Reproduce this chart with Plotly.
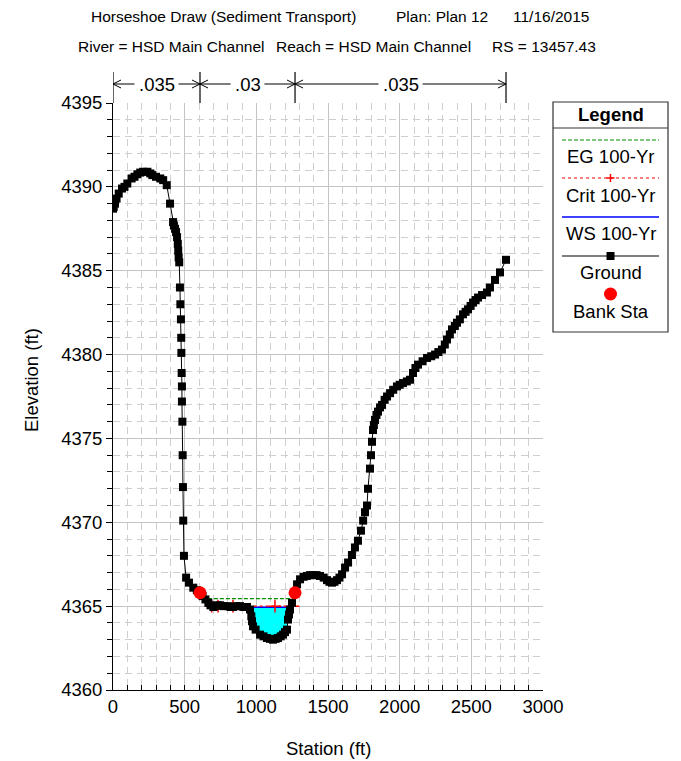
import numpy as np
import plotly.graph_objects as go

# ---- cross-section geometry (station ft, elevation ft) ----
station = [0, 5, 14, 25, 40, 63, 80, 100, 130, 150, 170, 190, 210, 240, 260, 275,
           300, 330, 350, 375, 398, 419, 425, 433, 440, 447, 452, 455, 458, 462,
           467, 470, 474, 476, 477, 479, 481, 481, 484, 486, 488, 490, 495, 510,
           530, 560, 585, 607, 625, 645, 665, 680, 700, 712, 730, 747, 770, 802,
           820, 837, 860, 886, 910, 935, 956, 965, 970, 977, 995, 1026, 1050, 1074,
           1095, 1116, 1135, 1151, 1170, 1186, 1200, 1214, 1221, 1228, 1235, 1249,
           1270, 1284, 1305, 1330, 1353, 1375, 1395, 1420, 1444, 1470, 1493, 1510,
           1528, 1545, 1563, 1580, 1598, 1619, 1640, 1667, 1688, 1709, 1730, 1745,
           1758, 1772, 1779, 1793, 1800, 1807, 1814, 1820, 1828, 1838, 1849, 1863,
           1877, 1895, 1912, 1933, 1955, 1981, 2000, 2023, 2050, 2072, 2093, 2110,
           2128, 2160, 2191, 2220, 2247, 2270, 2295, 2315, 2330, 2350, 2365, 2385,
           2400, 2420, 2442, 2460, 2477, 2495, 2512, 2530, 2547, 2575, 2609, 2630,
           2665, 2700, 2742]
elevation = [4388.7, 4388.8, 4389.0, 4389.3, 4389.6, 4389.9, 4390.0, 4390.2, 4390.5,
             4390.6, 4390.75, 4390.85, 4390.9, 4390.9, 4390.8, 4390.7, 4390.6, 4390.5,
             4390.4, 4390.1, 4389.0, 4387.9, 4387.7, 4387.5, 4387.3, 4387.0, 4386.6,
             4386.2, 4385.8, 4385.5, 4384.0, 4383.0, 4382.1, 4381.0, 4380.1, 4378.9,
             4378.1, 4377.2, 4376.0, 4374.0, 4372.1, 4370.1, 4368.0, 4366.7, 4366.4,
             4366.1, 4365.95, 4365.8, 4365.6, 4365.4, 4365.2, 4365.05, 4364.95, 4365.0,
             4365.05, 4365.05, 4365.0, 4365.0, 4364.95, 4364.95, 4365.0, 4365.0,
             4364.95, 4364.95, 4364.8, 4364.4, 4364.1, 4363.8, 4363.6, 4363.3, 4363.2,
             4363.1, 4363.05, 4363.0, 4363.05, 4363.1, 4363.2, 4363.3, 4363.45, 4363.6,
             4364.2, 4364.5, 4364.8, 4365.2, 4365.8, 4366.3, 4366.6, 4366.75, 4366.8,
             4366.85, 4366.85, 4366.85, 4366.8, 4366.7, 4366.55, 4366.45, 4366.4,
             4366.45, 4366.55, 4366.7, 4366.9, 4367.3, 4367.6, 4368.05, 4368.5, 4368.9,
             4369.5, 4370.1, 4370.6, 4371.0, 4372.0, 4373.2, 4374.0, 4374.8, 4375.5,
             4375.8, 4376.1, 4376.4, 4376.6, 4376.85, 4377.0, 4377.3, 4377.5, 4377.7,
             4377.9, 4378.1, 4378.2, 4378.3, 4378.4, 4378.5, 4378.9, 4379.2, 4379.4,
             4379.6, 4379.8, 4379.9, 4380.0, 4380.15, 4380.3, 4380.6, 4380.9, 4381.2,
             4381.5, 4381.7, 4381.9, 4382.1, 4382.4, 4382.55, 4382.7, 4382.9, 4383.1,
             4383.25, 4383.4, 4383.55, 4383.7, 4384.0, 4384.45, 4384.9, 4385.65]

bank_station = [607, 1270]
bank_elevation = [4365.8, 4365.8]

# ---- 100-yr profile results ----
ws_elev = 4364.93
ws_limits = [677, 1250]
eg_elev = 4365.45
eg_limits = [620, 1262]
crit_elev = 4365.0
crit_station = [688, 733, 837, 1130, 1256]

# ---- Manning's n regions ----
n_bounds = [0, 607, 1270, 2742]
n_values = [".035", ".03", ".035"]

# ---- page layout (pixels) ----
W, H = 681, 761
ML, MR, MT, MB = 113, 138, 103, 71
PW, PH = W - ML - MR, H - MT - MB
FONT = "Liberation Sans, Arial, sans-serif"
X_RANGE = [0, 3000]
FT_PER_PX = (X_RANGE[1] - X_RANGE[0]) / PW
EG_COLOR = "#009000"


def pxx(xp):
    return (xp - ML) / PW


def pxy(yp):
    return (H - MB - yp) / PH


st = np.array(station, dtype=float)
el = np.array(elevation, dtype=float)

# water area below the water surface
near = (st > ws_limits[0] - 60) & (st < ws_limits[1] + 60)
inside = (st > ws_limits[0]) & (st < ws_limits[1])
fx = np.concatenate([[ws_limits[0]], st[inside], [ws_limits[1]]])
fg = np.interp(fx, st[near], el[near])
fy = np.minimum(fg, ws_elev)

fig = go.Figure()
fig.add_trace(go.Scatter(x=fx, y=[ws_elev] * len(fx), mode="lines",
                         line=dict(width=0), showlegend=False, hoverinfo="skip"))
fig.add_trace(go.Scatter(x=fx, y=fy, mode="lines", fill="tonexty",
                         fillcolor="#00ffff", line=dict(width=0),
                         showlegend=False, hoverinfo="skip"))
fig.add_trace(go.Scatter(x=ws_limits, y=[ws_elev] * 2, mode="lines",
                         line=dict(color="#0000ff", width=1.5), name="WS 100-Yr"))
fig.add_trace(go.Scatter(x=crit_station, y=[crit_elev] * len(crit_station),
                         mode="lines+markers",
                         line=dict(color="#ff0000", width=1.2, dash="dot"),
                         marker=dict(symbol="cross-thin", size=9,
                                     line=dict(color="#ff0000", width=1.5)),
                         name="Crit 100-Yr"))
fig.add_trace(go.Scatter(x=eg_limits, y=[eg_elev] * 2, mode="lines",
                         line=dict(color=EG_COLOR, width=1.2, dash="4px,2px"),
                         name="EG 100-Yr"))
fig.add_trace(go.Scatter(x=st, y=el, mode="lines+markers",
                         line=dict(color="black", width=1),
                         marker=dict(symbol="square", size=8, color="black"),
                         name="Ground"))
fig.add_trace(go.Scatter(x=bank_station, y=bank_elevation, mode="markers",
                         marker=dict(symbol="circle", size=13, color="#ff0000"),
                         name="Bank Sta"))

shapes = []
annotations = []

# Manning's n region bar above the plot
bar_top, bar_y = 72, 84
for b in n_bounds:
    shapes.append(dict(type="line", xref="x", yref="paper", x0=b, x1=b,
                       y0=pxy(MT), y1=pxy(bar_top), line=dict(color="black", width=1.2)))
n_font = 18.5
for (a, b), label in zip(zip(n_bounds[:-1], n_bounds[1:]), n_values):
    c = (a + b) / 2
    tw = n_font * (0.278 + 0.556 * (len(label) - 1))
    gap = 4
    left_end = c - (tw / 2 + gap) * FT_PER_PX
    right_start = c + (tw / 2 + gap) * FT_PER_PX
    yy = pxy(bar_y)
    shapes.append(dict(type="line", xref="x", yref="paper", x0=a, x1=left_end,
                       y0=yy, y1=yy, line=dict(color="black", width=1)))
    shapes.append(dict(type="line", xref="x", yref="paper", x0=right_start, x1=b,
                       y0=yy, y1=yy, line=dict(color="black", width=1)))
    hx = 8 * FT_PER_PX
    hy = 4 / PH
    shapes.append(dict(type="path", xref="x", yref="paper",
                       path=f"M {a + hx},{yy + hy} L {a},{yy} L {a + hx},{yy - hy}",
                       line=dict(color="black", width=1)))
    shapes.append(dict(type="path", xref="x", yref="paper",
                       path=f"M {b - hx},{yy + hy} L {b},{yy} L {b - hx},{yy - hy}",
                       line=dict(color="black", width=1)))
    annotations.append(dict(x=c, y=yy, xref="x", yref="paper", text=label,
                            showarrow=False, xanchor="center", yanchor="middle",
                            font=dict(family=FONT, size=n_font, color="black")))

# header lines
title_font = dict(family=FONT, size=15.5, color="black")
header = [("Horseshoe Draw (Sediment Transport)", 89, 16),
          ("Plan: Plan 12", 394, 16),
          ("11/16/2015", 511, 16),
          ("River = HSD Main Channel", 76, 47),
          ("Reach = HSD Main Channel", 274, 47),
          ("RS = 13457.43", 490, 47)]
for text, x0, y0 in header:
    annotations.append(dict(x=pxx(x0), y=pxy(y0), xref="paper", yref="paper",
                            text=text, showarrow=False, xanchor="left",
                            yanchor="middle", font=title_font))

# axis titles
axis_font = dict(family=FONT, size=18.5, color="black")
annotations.append(dict(x=pxx(328), y=pxy(748), xref="paper", yref="paper",
                        text="Station (ft)", showarrow=False, xanchor="center",
                        yanchor="middle", font=axis_font))
annotations.append(dict(x=pxx(31), y=pxy(380), xref="paper", yref="paper",
                        text="Elevation (ft)", showarrow=False, textangle=-90,
                        xanchor="center", yanchor="middle", font=axis_font))

# legend panel
box = dict(x0=553, x1=668, y0=102, y1=332)
shapes.append(dict(type="rect", xref="paper", yref="paper",
                   x0=pxx(box["x0"]), x1=pxx(box["x1"]),
                   y0=pxy(box["y1"]), y1=pxy(box["y0"]),
                   line=dict(color="#333333", width=1.2), fillcolor="white"))
shapes.append(dict(type="line", xref="paper", yref="paper",
                   x0=pxx(box["x0"]), x1=pxx(box["x1"]), y0=pxy(128), y1=pxy(128),
                   line=dict(color="#333333", width=1.2)))
annotations.append(dict(x=pxx(610.5), y=pxy(114), xref="paper", yref="paper",
                        text="<b>Legend</b>", showarrow=False, xanchor="center",
                        yanchor="middle", font=axis_font))
lx0, lx1, lxc = 562, 659, 610.5
legend_rows = [("EG 100-Yr", 140, 157), ("Crit 100-Yr", 178, 195),
               ("WS 100-Yr", 217, 234), ("Ground", 256, 272), ("Bank Sta", 294, 311)]
for text, sy, ty in legend_rows:
    annotations.append(dict(x=pxx(lxc), y=pxy(ty), xref="paper", yref="paper",
                            text=text, showarrow=False, xanchor="center",
                            yanchor="middle", font=axis_font))


def seg(y, color, width, dash="solid"):
    return dict(type="line", xref="paper", yref="paper", x0=pxx(lx0), x1=pxx(lx1),
                y0=pxy(y), y1=pxy(y), line=dict(color=color, width=width, dash=dash))


shapes.append(seg(140, EG_COLOR, 1.2, "4px,2px"))
shapes.append(seg(178, "#ff0000", 1.2, "dot"))
shapes.append(dict(type="line", xref="paper", yref="paper", x0=pxx(lxc - 4), x1=pxx(lxc + 4),
                   y0=pxy(178), y1=pxy(178), line=dict(color="#ff0000", width=1.5)))
shapes.append(dict(type="line", xref="paper", yref="paper", x0=pxx(lxc), x1=pxx(lxc),
                   y0=pxy(174), y1=pxy(182), line=dict(color="#ff0000", width=1.5)))
shapes.append(seg(217, "#0000ff", 1.5))
shapes.append(seg(256, "black", 1.2))
shapes.append(dict(type="rect", xref="paper", yref="paper", x0=pxx(lxc - 4), x1=pxx(lxc + 4),
                   y0=pxy(260), y1=pxy(252), line=dict(width=0), fillcolor="black"))
shapes.append(dict(type="circle", xref="paper", yref="paper", x0=pxx(lxc - 6.5), x1=pxx(lxc + 6.5),
                   y0=pxy(300.5), y1=pxy(287.5), line=dict(width=0), fillcolor="#ff0000"))

grid_major = "#c4c4c4"
grid_minor = "#cfcfcf"
fig.update_layout(
    width=W, height=H,
    margin=dict(l=ML, r=MR, t=MT, b=MB, pad=0),
    paper_bgcolor="white", plot_bgcolor="white",
    showlegend=False,
    shapes=shapes, annotations=annotations,
    font=dict(family=FONT, size=18.5, color="black"),
    xaxis=dict(range=X_RANGE, dtick=500, tick0=0, showline=True, linecolor="black",
               linewidth=1, ticks="inside", ticklen=5, tickcolor="black",
               showgrid=True, gridcolor=grid_major, gridwidth=1, zeroline=False,
               tickfont=dict(family=FONT, size=18.5, color="black"),
               minor=dict(dtick=100, ticks="inside", ticklen=5, tickcolor="black",
                          showgrid=True, gridcolor=grid_minor, griddash="7px,5px",
                          gridwidth=1)),
    yaxis=dict(range=[4360, 4395], dtick=5, tick0=4360, showline=True, linecolor="black",
               linewidth=1, ticks="outside", ticklen=6, tickcolor="black",
               showgrid=True, gridcolor=grid_major, gridwidth=1, zeroline=False,
               tickfont=dict(family=FONT, size=18.5, color="black"),
               minor=dict(dtick=1, ticks="outside", ticklen=5, tickcolor="black",
                          showgrid=True, gridcolor=grid_minor, griddash="7px,5px",
                          gridwidth=1)),
)

fig.write_html("out.html")
